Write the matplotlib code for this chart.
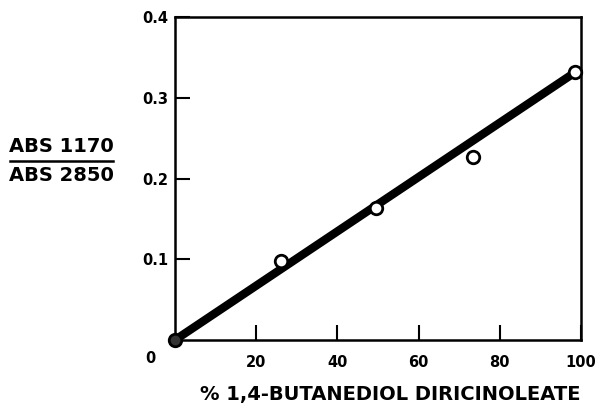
import matplotlib
matplotlib.use('Agg')
import matplotlib.pyplot as plt
from matplotlib.lines import Line2D

# percent 1,4-butanediol diricinoleate vs absorbance ratio
pct = [0, 26, 49.5, 73.5, 98.5]
ratio = [0.0, 0.098, 0.163, 0.227, 0.332]
fit_x = [0, 99]
fit_y = [0.0, 0.333]
xticks = [20, 40, 60, 80, 100]
yticks = [0.1, 0.2, 0.3, 0.4]

plt.rcParams['font.family'] = 'DejaVu Sans'
plt.rcParams['font.weight'] = 'bold'

fig = plt.figure(figsize=(5.97, 4.15), dpi=100)
ax = fig.add_axes([175/597, 1 - 340/415, 406/597, 323/415])

ax.plot(fit_x, fit_y, color='black', linewidth=6, solid_capstyle='round',
        zorder=2, clip_on=False)
ax.plot(pct[1:], ratio[1:], 'o', markersize=9, markerfacecolor='white',
        markeredgecolor='black', markeredgewidth=2, zorder=3, clip_on=False)
# origin point is buried under the line in the original
ax.plot(pct[:1], ratio[:1], 'o', markersize=9, markerfacecolor='#333333',
        markeredgecolor='black', markeredgewidth=2, zorder=3, clip_on=False)

ax.set_xlim(0, 100)
ax.set_ylim(0, 0.4)
ax.set_xticks(xticks)
ax.set_xticklabels([str(t) for t in xticks])
ax.set_yticks(yticks)
ax.set_yticklabels([str(t) for t in yticks])
ax.tick_params(axis='x', direction='in', length=11, width=1.5, pad=11, labelsize=10.5)
ax.tick_params(axis='y', direction='in', length=11, width=1.5, pad=5, labelsize=10.5)
for s in ax.spines.values():
    s.set_linewidth(1.8)

ax.annotate('0', (0, 0), xytext=(-18, -13), textcoords='offset points',
            ha='center', va='center', fontsize=10.5, fontweight='bold')

ax.set_xlabel('% 1,4-BUTANEDIOL DIRICINOLEATE', fontsize=14, fontweight='bold')
ax.xaxis.set_label_coords((390 - 175) / 406, -45 / 323)

# fraction-style y label
fig.text(61/597, 1 - 146/415, 'ABS 1170', ha='center', va='center', fontsize=14, fontweight='bold')
fig.text(61/597, 1 - 175/415, 'ABS 2850', ha='center', va='center', fontsize=14, fontweight='bold')
fig.add_artist(Line2D([10/597, 113/597], [1 - 161/415, 1 - 161/415],
                      color='black', linewidth=1.8, transform=fig.transFigure))

fig.savefig('out.png', dpi=100)
